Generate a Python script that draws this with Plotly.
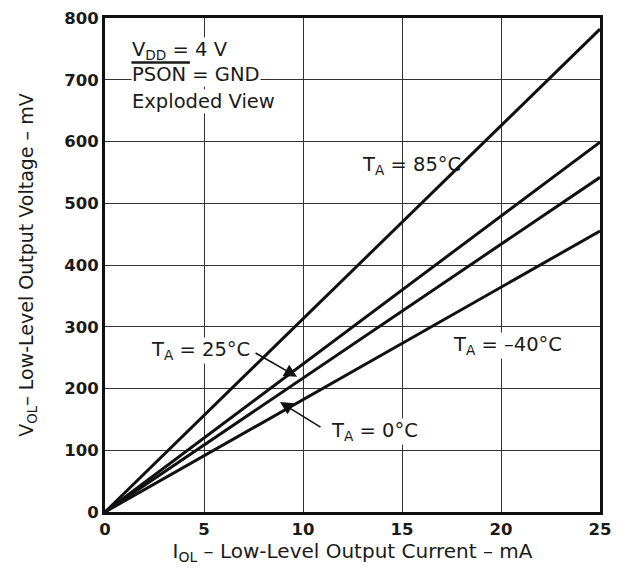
import plotly.graph_objects as go

current_ma = [0, 25]
v_85 = [0, 782]
v_25 = [0, 599]
v_0 = [0, 542]
v_m40 = [0, 455]
x_ticks = [0, 5, 10, 15, 20, 25]
y_ticks = [0, 100, 200, 300, 400, 500, 600, 700, 800]

fig = go.Figure()
for ys in [v_85, v_25, v_0, v_m40]:
    fig.add_trace(go.Scatter(x=current_ma, y=ys, mode="lines",
                             line=dict(color="#111111", width=3), showlegend=False))

F = "DejaVu Sans, sans-serif"
C = "#1a1a1a"
fig.update_layout(
    width=627, height=574,
    margin=dict(l=97, r=35, t=10, b=70),
    paper_bgcolor="white", plot_bgcolor="white",
    font=dict(family=F, color=C),
)
fig.update_xaxes(range=[0, 25], tickvals=x_ticks, showgrid=True, gridcolor="#333333", gridwidth=1,
                 showline=True, linecolor="#111111", linewidth=3, mirror=True, zeroline=False,
                 automargin=False,
                 tickfont=dict(size=16.5, family=F, weight="bold", color=C), ticks="",
                 title=dict(text="I<sub>OL</sub> – Low-Level Output Current – mA",
                            font=dict(size=20, family=F, color=C), standoff=6))
fig.update_yaxes(range=[0, 800], tickvals=y_ticks, showgrid=True, gridcolor="#333333", gridwidth=1,
                 showline=True, linecolor="#111111", linewidth=3, mirror=True, zeroline=False,
                 automargin=False,
                 tickfont=dict(size=16.5, family=F, weight="bold", color=C), ticks="",
                 title=dict(text="V<sub>OL</sub>– Low-Level Output Voltage – mV",
                            font=dict(size=19, family=F, color=C), standoff=26))

tf = dict(size=19.5, family=F, color=C)
def txt(x, y, s, bg="white"):
    fig.add_annotation(x=x, y=y, xref="x", yref="y", text=s, showarrow=False,
                       xanchor="left", yanchor="middle", font=tf, bgcolor=bg, borderpad=0)

txt(1.3, 748, "V<sub>DD</sub> = 4 V")
txt(1.3, 708, "PSON = GND")
txt(1.3, 665, "Exploded View")
# overline over PSON (drawn after the text so it stays visible)
fig.add_annotation(x=4.29, y=728, ax=1.26, ay=728, xref="x", yref="y", axref="x", ayref="y",
                   text="", showarrow=True, arrowhead=0, arrowwidth=2.5, arrowcolor=C,
                   standoff=0, startstandoff=0)

txt(12.95, 561, "T<sub>A</sub> = 85°C", bg="rgba(0,0,0,0)")
txt(17.55, 269, "T<sub>A</sub> = –40°C")
txt(2.25, 262, "T<sub>A</sub> = 25°C")
txt(11.35, 131, "T<sub>A</sub> = 0°C")

fig.add_annotation(x=9.70, y=219, ax=7.53, ay=259, xref="x", yref="y", axref="x", ayref="y",
                   text="", showarrow=True, arrowhead=2, arrowsize=1.6, arrowwidth=1.6, arrowcolor="#111111")
fig.add_annotation(x=8.84, y=178, ax=10.96, ay=136, xref="x", yref="y", axref="x", ayref="y",
                   text="", showarrow=True, arrowhead=2, arrowsize=1.6, arrowwidth=1.6, arrowcolor="#111111")

fig.write_html("out.html")
